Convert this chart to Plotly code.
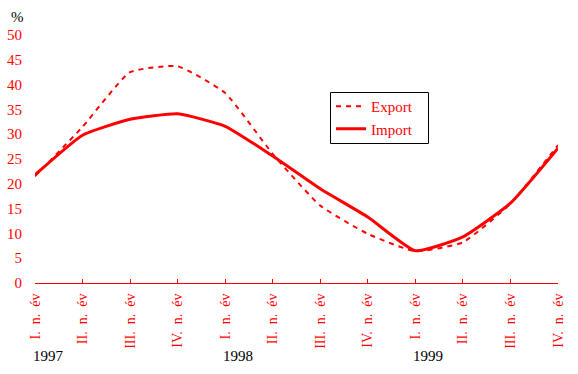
import plotly.graph_objects as go

quarters = ["I. n. év", "II. n. év", "III. n. év", "IV. n. év",
            "I. n. év", "II. n. év", "III. n. év", "IV. n. év",
            "I. n. év", "II. n. év", "III. n. év", "IV. n. év"]
years = ["1997", "1998", "1999"]
year_pos = [0, 4, 8]
export_vals = [21.5, 31.5, 42.5, 43.7, 38.3, 26.0, 15.6, 9.9, 6.4, 8.2, 16.0, 27.8]
import_vals = [21.8, 29.8, 33.0, 34.1, 31.6, 25.6, 19.0, 13.3, 6.5, 9.3, 16.1, 27.2]

xs = list(range(len(quarters)))
RED = "#ff0000"
FONT = "Liberation Serif"
NB = "\u00a0"
ticktext = [q.replace(" ", NB + NB) for q in quarters]

PW, PH, L, T = 523, 248, 35, 35


def px(x):
    return (x - L) / PW


def py(y):
    return (T + PH - y) / PH


fig = go.Figure()
fig.add_trace(go.Scatter(x=xs, y=export_vals, name="Export", mode="lines",
                         line=dict(color=RED, width=2, dash="5px,5px", shape="spline", smoothing=0.45)))
fig.add_trace(go.Scatter(x=xs, y=import_vals, name="Import", mode="lines",
                         line=dict(color=RED, width=3, shape="spline", smoothing=0.45)))

fig.update_xaxes(range=[0, 11], tickmode="array", tickvals=xs, ticktext=ticktext,
                 tickangle=-90, ticks="inside", ticklen=4, tickcolor=RED, tickwidth=1,
                 showline=True, linecolor=RED, linewidth=1, showgrid=False, zeroline=False,
                 automargin=False, ticklabelstandoff=4,
                 tickfont=dict(family=FONT, size=14, color=RED))
fig.update_yaxes(range=[0, 50], dtick=5, showline=False, showgrid=False, zeroline=False,
                 ticks="", automargin=False, ticklabelstandoff=12,
                 tickfont=dict(family=FONT, size=15, color=RED))

annotations = [dict(x=p, y=0, xref="x", yref="paper", text=t, showarrow=False,
                    xanchor="left", yanchor="top", xshift=-4, yshift=-63,
                    font=dict(family=FONT, size=15, color="black"))
               for p, t in zip(year_pos, years)]
annotations.append(dict(x=-26 / 523, y=1 + 18 / 248, xref="paper", yref="paper", text="%",
                        showarrow=False, xanchor="left", yanchor="middle",
                        font=dict(family=FONT, size=15, color="black")))

fig.update_layout(
    width=578, height=374,
    margin=dict(l=L, r=20, t=T, b=91),
    paper_bgcolor="white", plot_bgcolor="white",
    showlegend=True,
    legend=dict(x=px(331), y=py(90), xanchor="left", yanchor="top",
                borderwidth=0, bgcolor="rgba(0,0,0,0)",
                font=dict(family=FONT, size=15, color=RED), tracegroupgap=0),
    shapes=[dict(type="rect", xref="paper", yref="paper",
                 x0=px(330.5), x1=px(428.5), y0=py(143.5), y1=py(92.5),
                 line=dict(color="black", width=1), fillcolor="rgba(0,0,0,0)", layer="above")],
    annotations=annotations,
)

fig.write_html("out.html", config={"displayModeBar": False},
               post_script="document.body.style.margin='0px';")
